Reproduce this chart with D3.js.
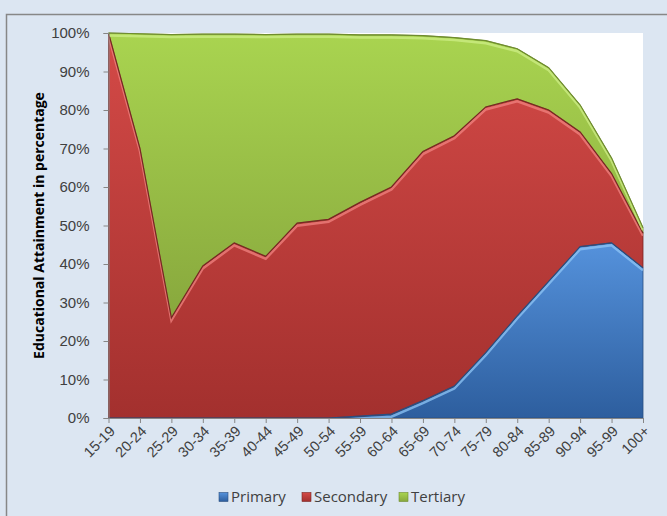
<!DOCTYPE html>
<html>
<head>
<meta charset="utf-8">
<script src="https://cdn.jsdelivr.net/npm/d3@7"></script>
<style>
  html, body { margin: 0; padding: 0; background: #dce6f2; overflow: hidden; }
  svg { display: block; }
</style>
</head>
<body>
<script>
// age groups along the x axis
const ageGroups = ["15-19", "20-24", "25-29", "30-34", "35-39", "40-44", "45-49", "50-54", "55-59",
  "60-64", "65-69", "70-74", "75-79", "80-84", "85-89", "90-94", "95-99", "100+"];

// share of each attainment level, in percent
const primary   = [0, 0, 0, 0, 0, 0, 0, 0, 0.5, 1, 4.5, 8.3, 17, 26.5, 35.5, 44.5, 45.5, 39];
const secondary = [100, 70, 26, 39.5, 45.5, 42, 50.6, 51.6, 55.5, 59, 64.7, 65, 63.8, 56.4, 44.5, 29.8, 18, 9];
const tertiary  = [0, 29.8, 73.6, 60.2, 54.2, 57.6, 49.1, 48.1, 43.5, 39.5, 30.1, 25.5, 17.2, 13, 11, 7, 4, 1.4];

const yTicks = [0, 10, 20, 30, 40, 50, 60, 70, 80, 90, 100];

const keys = ["Primary", "Secondary", "Tertiary"];
const rows = ageGroups.map((g, i) => ({ group: g, Primary: primary[i], Secondary: secondary[i], Tertiary: tertiary[i] }));

const style = {
  Primary:   { top: "#5592dc", bottom: "#2d5e9e", edge: "#2a4f80", light: "#8fc6f6" },
  Secondary: { top: "#d44a47", bottom: "#a3302e", edge: "#7a2523", light: "#f08380" },
  Tertiary:  { top: "#a9d450", bottom: "#88a83d", edge: "#6f8c2e", light: "#cdee86" }
};

const width = 667, height = 516;
const margin = { left: 108.5, right: 24, top: 33, bottom: 98 };

const svg = d3.select("body").append("svg")
    .attr("width", width)
    .attr("height", height)
    .style("font-family", "'Open Sans', sans-serif");

const defs = svg.append("defs");
keys.forEach(k => {
  const g = defs.append("linearGradient")
      .attr("id", "grad-" + k)
      .attr("x1", 0).attr("y1", 0).attr("x2", 0).attr("y2", 1);
  g.append("stop").attr("offset", "0%").attr("stop-color", style[k].top);
  g.append("stop").attr("offset", "100%").attr("stop-color", style[k].bottom);
});

// chart area with its border (right and bottom run past the window)
svg.append("rect")
    .attr("x", 6.5).attr("y", 14.5)
    .attr("width", 700).attr("height", 560)
    .attr("fill", "#dce6f2")
    .attr("stroke", "#878787")
    .attr("stroke-width", 1.5);

const x = d3.scalePoint()
    .domain(ageGroups)
    .range([margin.left, width - margin.right]);

const y = d3.scaleLinear()
    .domain([0, 100])
    .range([height - margin.bottom, margin.top]);

// plot area
svg.append("rect")
    .attr("x", margin.left).attr("y", margin.top)
    .attr("width", x.range()[1] - margin.left)
    .attr("height", y(0) - margin.top)
    .attr("fill", "#ffffff");

const stacked = d3.stack().keys(keys)(rows);

const area = d3.area()
    .x(d => x(d.data.group))
    .y0(d => y(d[0]))
    .y1(d => y(d[1]));

const topLine = d3.line()
    .x(d => x(d.data.group))
    .y(d => y(d[1]));

const gAreas = svg.append("g");

stacked.forEach(s => {
  defs.append("clipPath").attr("id", "clip-" + s.key)
    .append("path").attr("d", area(s));
});

gAreas.selectAll("path.area")
  .data(stacked)
  .join("path")
    .attr("class", "area")
    .attr("d", area)
    .attr("fill", d => `url(#grad-${d.key})`)
    .attr("stroke", d => style[d.key].edge)
    .attr("stroke-width", 0.8);

// bevel: light band just inside the top edge, dark line on the edge
stacked.forEach(s => {
  const g = gAreas.append("g").attr("clip-path", `url(#clip-${s.key})`);
  g.append("path")
      .attr("d", topLine(s))
      .attr("transform", "translate(0,2.5)")
      .attr("fill", "none")
      .attr("stroke", style[s.key].light)
      .attr("stroke-width", 2.5)
      .attr("stroke-opacity", 0.75);
  gAreas.append("path")
      .attr("d", topLine(s))
      .attr("fill", "none")
      .attr("stroke", style[s.key].edge)
      .attr("stroke-width", 1.2);
});

// axes
const axisColor = "#868686";

const yAxis = svg.append("g")
    .attr("transform", `translate(${margin.left},0)`)
    .call(d3.axisLeft(y).tickValues(yTicks).tickFormat(d => d + "%").tickSize(5).tickPadding(14));
yAxis.select(".domain").attr("stroke", axisColor);
yAxis.selectAll(".tick line").attr("stroke", axisColor);
yAxis.selectAll("text")
    .attr("fill", "#404040")
    .style("font-size", "15px");

const xAxis = svg.append("g")
    .attr("transform", `translate(0,${y(0)})`)
    .call(d3.axisBottom(x).tickSize(5).tickSizeOuter(0));
xAxis.select(".domain").attr("stroke", axisColor);
xAxis.selectAll(".tick line").attr("stroke", axisColor);
xAxis.selectAll("text")
    .attr("fill", "#404040")
    .style("font-size", "14.5px")
    .attr("text-anchor", "end")
    .attr("x", 0).attr("y", 0).attr("dy", 0)
    .attr("transform", "translate(7,14) rotate(-45)");

svg.append("text")
    .attr("transform", `translate(44,${(y(0) + y(100)) / 2}) rotate(-90)`)
    .attr("text-anchor", "middle")
    .attr("fill", "#000")
    .style("font-size", "14px")
    .style("font-weight", "bold")
    .text("Educational Attainment in percentage");

// legend
const legendX = [219, 302, 399];
const legend = svg.append("g")
  .selectAll("g")
  .data(keys)
  .join("g")
    .attr("transform", (d, i) => `translate(${legendX[i]},497)`);

legend.append("rect")
    .attr("x", 0).attr("y", -4.5)
    .attr("width", 9).attr("height", 9)
    .attr("fill", d => `url(#grad-${d})`)
    .attr("stroke", d => style[d].edge)
    .attr("stroke-width", 0.6);

legend.append("text")
    .attr("x", 12)
    .attr("dy", "0.35em")
    .attr("fill", "#404040")
    .style("font-size", "15px")
    .text(d => d);
</script>
</body>
</html>
